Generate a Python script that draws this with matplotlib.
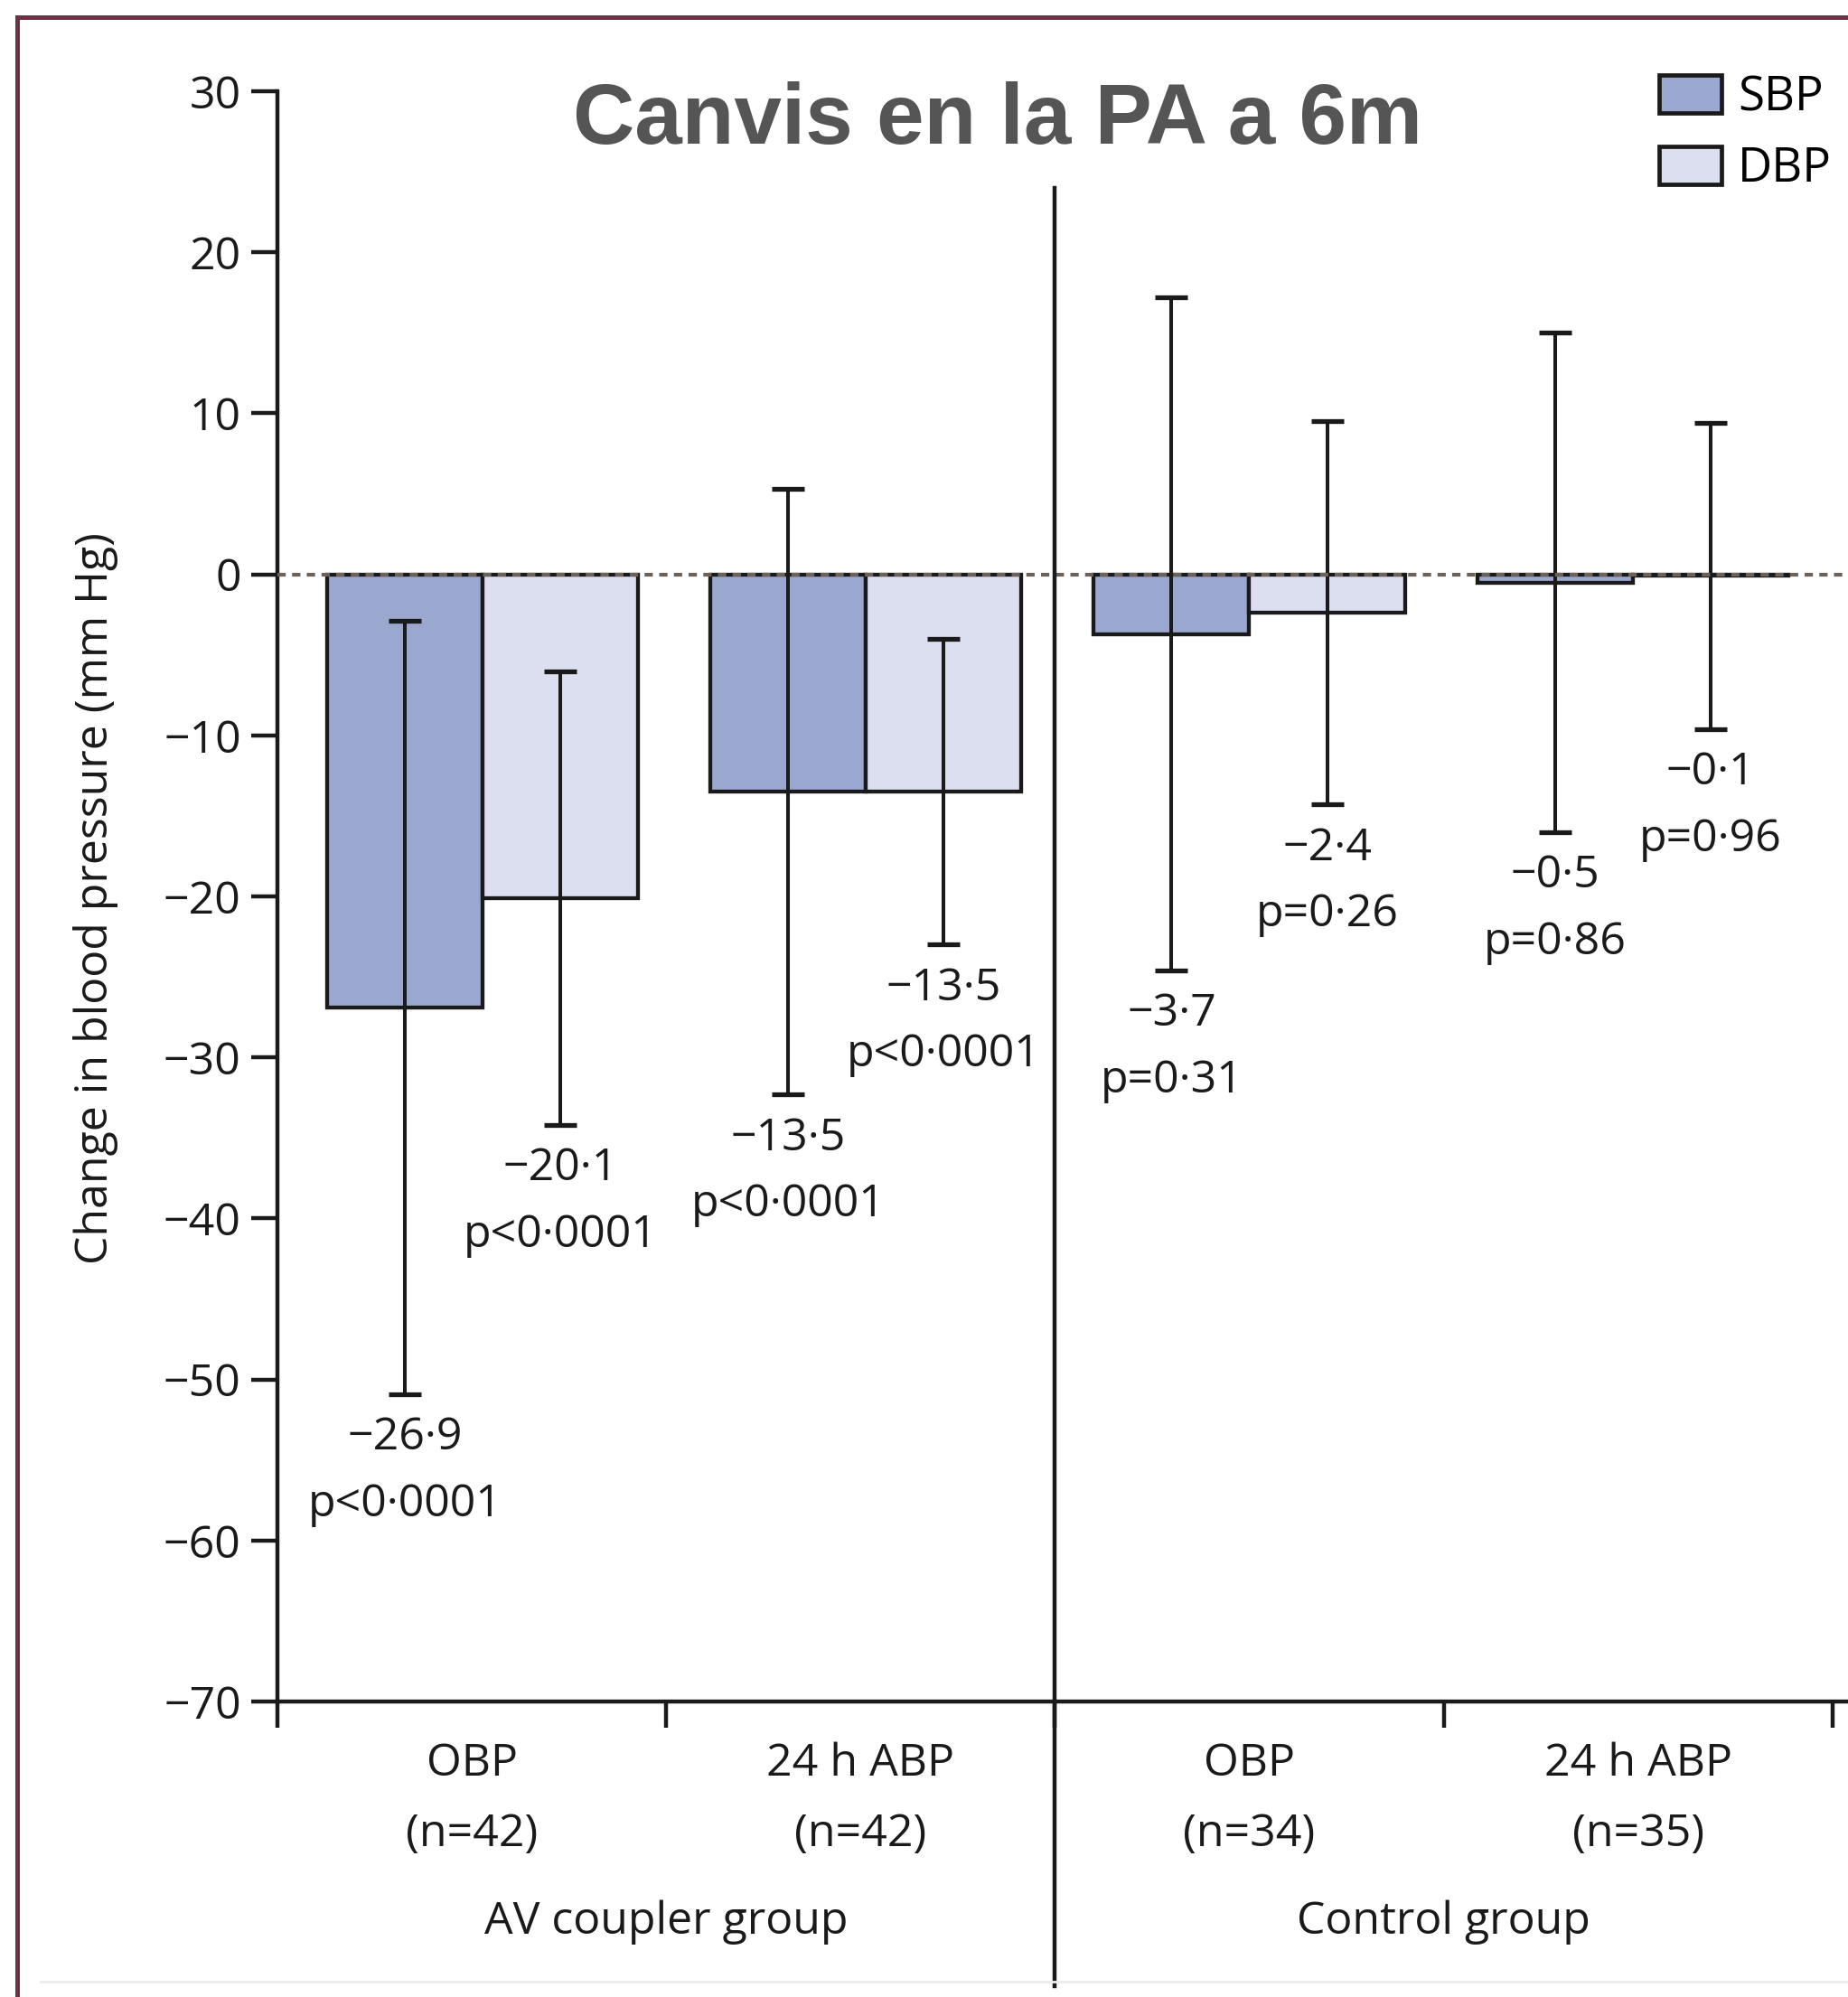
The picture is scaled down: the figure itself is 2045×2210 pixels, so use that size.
import matplotlib
matplotlib.use("Agg")
import matplotlib.pyplot as plt
import numpy as np
from matplotlib.lines import Line2D
from matplotlib.patches import Patch

# Mean change from baseline at 6 months, with SD whiskers
measures = ["OBP", "24 h ABP", "OBP", "24 h ABP"]
n_patients = [42, 42, 34, 35]
groups = ["AV coupler group", "Control group"]

sbp_change = [-26.9, -13.5, -3.7, -0.5]
dbp_change = [-20.1, -13.5, -2.4, -0.1]
sbp_sd = [24.0, 18.8, 20.9, 15.5]
dbp_sd = [14.1, 9.5, 11.9, 9.5]
sbp_p = ["p<0·0001", "p<0·0001", "p=0·31", "p=0·86"]
dbp_p = ["p<0·0001", "p<0·0001", "p=0·26", "p=0·96"]

y_ticks = [30, 20, 10, 0, -10, -20, -30, -40, -50, -60, -70]

W, H = 2045, 2210
plt.rcParams["font.family"] = ["Open Sans", "DejaVu Sans"]
INK = "#1a1a1a"
SBP_COLOR = "#9aa8d0"
DBP_COLOR = "#dcdff0"
FS = 36


def fmt(v):
    return f"{v:.1f}".replace("-", "\u2212").replace(".", "\u00b7")


fig = plt.figure(figsize=(W / 100, H / 100), dpi=100)
ax = fig.add_axes([307 / W, 327 / H, 1 - 307 / W, (1883 - 101) / H])
ax.set_xlim(0, 4.04)
ax.set_ylim(-70, 30)

pairs = 0.528 + 0.986 * np.arange(len(measures))
width = 0.4
x_sbp = pairs - width / 2
x_dbp = pairs + width / 2

ax.bar(x_sbp, sbp_change, width, color=SBP_COLOR, edgecolor=INK,
       linewidth=3.1, zorder=2, label="SBP")
ax.bar(x_dbp, dbp_change, width, color=DBP_COLOR, edgecolor=INK,
       linewidth=3.1, zorder=2, label="DBP")

for xs, ys, sds in ((x_sbp, sbp_change, sbp_sd), (x_dbp, dbp_change, dbp_sd)):
    ax.errorbar(xs, ys, yerr=sds, fmt="none", ecolor=INK, elinewidth=2.9,
                capsize=13, capthick=3.8, zorder=4)

ax.axhline(0, color="#6b625c", lw=3.0, linestyle=(0, (2.2, 1.7)), zorder=5)

# value and p-value under the lower whisker
for xs, ys, sds, ps in ((x_sbp, sbp_change, sbp_sd, sbp_p),
                        (x_dbp, dbp_change, dbp_sd, dbp_p)):
    for x, y, sd, p in zip(xs, ys, sds, ps):
        ax.annotate(fmt(y), xy=(x, y - sd), xytext=(0, -35),
                    textcoords="offset points", ha="center", va="center",
                    fontsize=FS, color=INK)
        ax.annotate(p, xy=(x, y - sd), xytext=(0, -88),
                    textcoords="offset points", ha="center", va="center",
                    fontsize=FS, color=INK)

# divider between the two study groups
ax.plot([2, 2], [24.0, -87.7], color=INK, lw=3.2, clip_on=False, zorder=6)

for side in ("top", "right"):
    ax.spines[side].set_visible(False)
for side in ("left", "bottom"):
    ax.spines[side].set_linewidth(3.2)
    ax.spines[side].set_color(INK)

ax.set_yticks(y_ticks)
ax.set_yticklabels([str(t).replace("-", "\u2212") for t in y_ticks])
ax.set_xticks([0, 1, 2, 3, 4])
ax.set_xticklabels([])
ax.tick_params(axis="both", direction="out", length=21, width=3.2,
               color=INK, labelsize=FS, labelcolor=INK, pad=8)

for i, (m, n) in enumerate(zip(measures, n_patients)):
    ax.annotate(m, xy=(i + 0.5, 0), xycoords=("data", "axes fraction"),
                xytext=(0, -50), textcoords="offset points",
                ha="center", va="center", fontsize=FS, color=INK,
                annotation_clip=False)
    ax.annotate(f"(n={n})", xy=(i + 0.5, 0), xycoords=("data", "axes fraction"),
                xytext=(0, -106), textcoords="offset points",
                ha="center", va="center", fontsize=FS, color=INK,
                annotation_clip=False)
for i, g in enumerate(groups):
    ax.annotate(g, xy=(2 * i + 1, 0), xycoords=("data", "axes fraction"),
                xytext=(0, -176), textcoords="offset points",
                ha="center", va="center", fontsize=FS, color=INK,
                annotation_clip=False)

fig.text(106 / W, 1 - 994 / H, "Change in blood pressure (mm Hg)",
         rotation=90, ha="center", va="center", fontsize=FS, color=INK)

fig.text(1104 / W, 1 - 134 / H, "Canvis en la PA a 6m", ha="center",
         va="center", fontsize=68, fontweight="bold",
         family="Liberation Sans", color="#555555")

handles = [Patch(facecolor=SBP_COLOR, edgecolor=INK, linewidth=3.4),
           Patch(facecolor=DBP_COLOR, edgecolor=INK, linewidth=3.4)]
ax.legend(handles, ["SBP", "DBP"], loc="upper left",
          bbox_to_anchor=(1836 / W, 1 - 82 / H), bbox_transform=fig.transFigure,
          frameon=False, borderpad=0, borderaxespad=0, fontsize=FS + 2,
          handlelength=1.3, handleheight=0.85, handletextpad=0.35,
          labelspacing=0.48)

# outer frame
frame = "#6b3446"
fig.add_artist(Line2D([19 / W, 19 / W], [0, 1 - 19 / H],
                      transform=fig.transFigure, color=frame, lw=3.6))
fig.add_artist(Line2D([19 / W, 1], [1 - 19 / H, 1 - 19 / H],
                      transform=fig.transFigure, color=frame, lw=3.6))
fig.add_artist(Line2D([45 / W, 1], [1 - 2193 / H, 1 - 2193 / H],
                      transform=fig.transFigure, color="#ececec", lw=2))

fig.savefig("out.png", dpi=100)
